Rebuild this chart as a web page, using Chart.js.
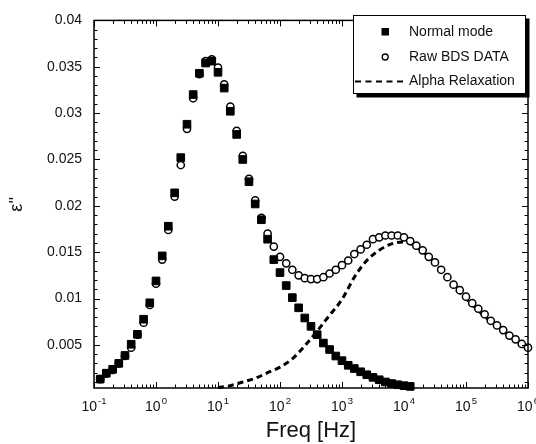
<!DOCTYPE html>
<html>
<head>
<meta charset="utf-8">
<script src="https://cdn.jsdelivr.net/npm/chart.js@4.4.1/dist/chart.umd.min.js"></script>
<style>
  html, body { margin: 0; padding: 0; background: #fff; }
  #wrap { width: 536px; height: 444px; }
</style>
</head>
<body>
<div id="wrap"><canvas id="epsChart" width="536" height="444"></canvas></div>
<script>
// DATA
const freq = [
  0.126, 0.158, 0.2, 0.251, 0.316, 0.398, 0.501, 0.631, 0.794,
  1, 1.26, 1.58, 2, 2.51, 3.16, 3.98, 5.01, 6.31, 7.94,
  10, 12.6, 15.8, 20, 25.1, 31.6, 39.8, 50.1, 63.1, 79.4,
  100, 126, 158, 200, 251, 316, 398, 501, 631, 794,
  1000, 1260, 1580, 2000, 2510, 3160, 3980, 5010, 6310, 7940,
  10000, 12600, 15800, 20000, 25100, 31600, 39800, 50100, 63100, 79400,
  100000, 126000, 158000, 200000, 251000, 316000, 398000, 501000, 631000, 794000,
  1000000
];
const rawBDS = [
  0.0013, 0.0019, 0.0023, 0.0030, 0.0038, 0.0047, 0.0061, 0.0074, 0.0093,
  0.0116, 0.0142, 0.0174, 0.0210, 0.0244, 0.0283, 0.0316, 0.0342, 0.0356, 0.0358,
  0.0349, 0.0331, 0.0307, 0.0281, 0.0254, 0.0229, 0.0206, 0.0187, 0.0170, 0.0156,
  0.0145, 0.0138, 0.0131, 0.0125, 0.0122, 0.0121, 0.0121, 0.0123, 0.0127, 0.0131,
  0.0136, 0.0141, 0.0148, 0.0153, 0.0158, 0.0164, 0.0166, 0.0168, 0.0168, 0.0168,
  0.0166, 0.0162, 0.0157, 0.0152, 0.0145, 0.0139, 0.0131, 0.0123, 0.0115, 0.0109,
  0.0102, 0.0095, 0.0089, 0.0083, 0.0076, 0.0071, 0.0066, 0.0060, 0.0056, 0.0051,
  0.0047
];
// normal mode is only given up to ~1.26e4 Hz
const normalMode = [
  0.00131, 0.00195, 0.00237, 0.00301, 0.00386, 0.00507, 0.00614, 0.00777, 0.00954,
  0.0119, 0.0146, 0.0178, 0.0214, 0.0252, 0.0288, 0.0320, 0.0343, 0.0354, 0.0356,
  0.0344, 0.0327, 0.0302, 0.0277, 0.0250, 0.0226, 0.0202, 0.0185, 0.0164, 0.0142,
  0.0128, 0.0114, 0.0101, 0.0090, 0.0079, 0.0070, 0.0061, 0.0052, 0.0045, 0.0038,
  0.0033, 0.0028, 0.00245, 0.0021, 0.00178, 0.0015, 0.00124, 0.0010, 0.00083, 0.0007,
  0.0006, 0.00052
];
const alphaFreq = [
  10, 15.8, 25.1, 39.8, 63.1, 100, 158, 251, 398, 631,
  1000, 1580, 2510, 3980, 6310, 10000, 15800, 25100, 39800, 63100,
  100000, 158000, 251000, 398000, 631000, 1000000
];
const alphaRelax = [
  0.0004, 0.0006, 0.0010, 0.0014, 0.0020, 0.0026, 0.0035, 0.0049, 0.0065, 0.0082,
  0.0099, 0.0123, 0.0141, 0.0152, 0.0159, 0.0161, 0.0156, 0.0145, 0.0131, 0.0114,
  0.0100, 0.0087, 0.0075, 0.0065, 0.0055, 0.0046
];
const xTickExp = [-1, 0, 1, 2, 3, 4, 5, 6];
const yTicks = [0.005, 0.01, 0.015, 0.02, 0.025, 0.03, 0.035, 0.04];

const FONT = '"Liberation Sans", Arial, sans-serif';

// FRAME, INWARD TICKS, X LABELS, LEGEND
const framePlugin = {
  id: 'frame',
  afterDraw(chart) {
    const { ctx, chartArea: a, scales: { x, y } } = chart;
    ctx.save();
    ctx.strokeStyle = '#000';
    ctx.lineWidth = 1;
    ctx.beginPath();
    for (let e = -1; e <= 6; e++) {
      for (let m = 1; m <= 9; m++) {
        if (e === 6 && m > 1) break;
        const px = Math.round(x.getPixelForValue(m * Math.pow(10, e))) + 0.5;
        const len = m === 1 ? 6 : 3.5;
        ctx.moveTo(px, a.bottom); ctx.lineTo(px, a.bottom - len);
        ctx.moveTo(px, a.top); ctx.lineTo(px, a.top + len);
      }
    }
    for (let k = 1; k <= 40; k++) {
      const py = Math.round(y.getPixelForValue(k * 0.001)) + 0.5;
      const len = k % 5 === 0 ? 6 : 3.5;
      ctx.moveTo(a.left, py); ctx.lineTo(a.left + len, py);
      ctx.moveTo(a.right, py); ctx.lineTo(a.right - len, py);
    }
    ctx.stroke();

    ctx.lineWidth = 1.5;
    ctx.strokeRect(a.left, a.top, a.right - a.left, a.bottom - a.top);

    // x tick labels 10^n
    ctx.fillStyle = '#111';
    ctx.textBaseline = 'alphabetic';
    ctx.textAlign = 'left';
    xTickExp.forEach(e => {
      const px = x.getPixelForValue(Math.pow(10, e));
      ctx.font = '14px ' + FONT;
      const wb = ctx.measureText('10').width;
      ctx.font = '9.5px ' + FONT;
      const sup = String(e);
      const ws = ctx.measureText(sup).width;
      const x0 = px - (wb + ws + 1) / 2;
      ctx.font = '14px ' + FONT;
      ctx.fillText('10', x0, 411);
      ctx.font = '9.5px ' + FONT;
      ctx.fillText(sup, x0 + wb + 1, 404);
    });

    // legend box with shadow
    const bx = 353, by = 15, bw = 173, bh = 79;
    ctx.fillStyle = '#000';
    ctx.fillRect(bx + 3.5, by + 3.5, bw, bh);
    ctx.fillStyle = '#fff';
    ctx.fillRect(bx, by, bw, bh);
    ctx.lineWidth = 1;
    ctx.strokeStyle = '#000';
    ctx.strokeRect(bx + 0.5, by + 0.5, bw - 1, bh - 1);

    ctx.fillStyle = '#000';
    ctx.fillRect(381.5, 28, 7.5, 7.5);
    ctx.beginPath();
    ctx.lineWidth = 1.3;
    ctx.arc(385.2, 57, 3, 0, Math.PI * 2);
    ctx.fillStyle = '#fff';
    ctx.fill();
    ctx.stroke();
    ctx.beginPath();
    ctx.lineWidth = 2.2;
    ctx.setLineDash([6, 4.5]);
    ctx.moveTo(355, 81.5);
    ctx.lineTo(407, 81.5);
    ctx.stroke();
    ctx.setLineDash([]);

    ctx.fillStyle = '#111';
    ctx.font = '14px ' + FONT;
    ctx.textBaseline = 'middle';
    ctx.fillText('Normal mode', 409, 32);
    ctx.fillText('Raw BDS DATA', 409, 57);
    ctx.fillText('Alpha Relaxation', 409, 81);
    ctx.restore();
  }
};

new Chart(document.getElementById('epsChart'), {
  type: 'line',
  data: {
    datasets: [
      {
        label: 'Normal mode',
        data: normalMode.map((v, i) => ({ x: freq[i], y: v })),
        showLine: false,
        pointStyle: 'rect',
        pointRadius: 5.4,
        pointBorderWidth: 1,
        pointBackgroundColor: '#000',
        pointBorderColor: '#000',
        order: 1,
        clip: false
      },
      {
        label: 'Raw BDS DATA',
        data: rawBDS.map((v, i) => ({ x: freq[i], y: v })),
        showLine: false,
        pointStyle: 'circle',
        pointRadius: 3.6,
        pointBorderWidth: 1.5,
        pointBackgroundColor: '#fff',
        pointBorderColor: '#000',
        order: 2,
        clip: false
      },
      {
        label: 'Alpha Relaxation',
        data: alphaRelax.map((v, i) => ({ x: alphaFreq[i], y: v })),
        borderColor: '#000',
        borderWidth: 3,
        borderDash: [6, 4],
        pointRadius: 0,
        cubicInterpolationMode: 'monotone',
        fill: false,
        order: 3,
        clip: false
      }
    ]
  },
  options: {
    responsive: false,
    animation: false,
    layout: { padding: { top: 15, right: 8, left: 0, bottom: 0 } },
    plugins: { legend: { display: false }, tooltip: { enabled: false } },
    scales: {
      x: {
        type: 'logarithmic',
        min: 0.1,
        max: 1000000,
        grid: { display: false },
        border: { display: false },
        ticks: { display: false },
        title: {
          display: true,
          text: 'Freq [Hz]',
          color: '#111',
          font: { family: FONT, size: 22 },
          padding: { top: 0, bottom: 0 }
        },
        afterFit(scale) { scale.height = 56; }
      },
      y: {
        type: 'linear',
        min: 0.00035,
        max: 0.04,
        grid: { display: false, drawTicks: false },
        border: { display: false },
        afterBuildTicks(scale) { scale.ticks = yTicks.map(v => ({ value: v })); },
        ticks: {
          padding: 12,
          color: '#111',
          font: { family: FONT, size: 14 },
          callback: v => String(+v.toFixed(3))
        },
        title: {
          display: true,
          text: "ε''",
          color: '#111',
          font: { family: FONT, size: 18 },
          padding: { top: 6, bottom: 0 }
        },
        afterFit(scale) { scale.width = 94; }
      }
    }
  },
  plugins: [framePlugin]
});
</script>
</body>
</html>
